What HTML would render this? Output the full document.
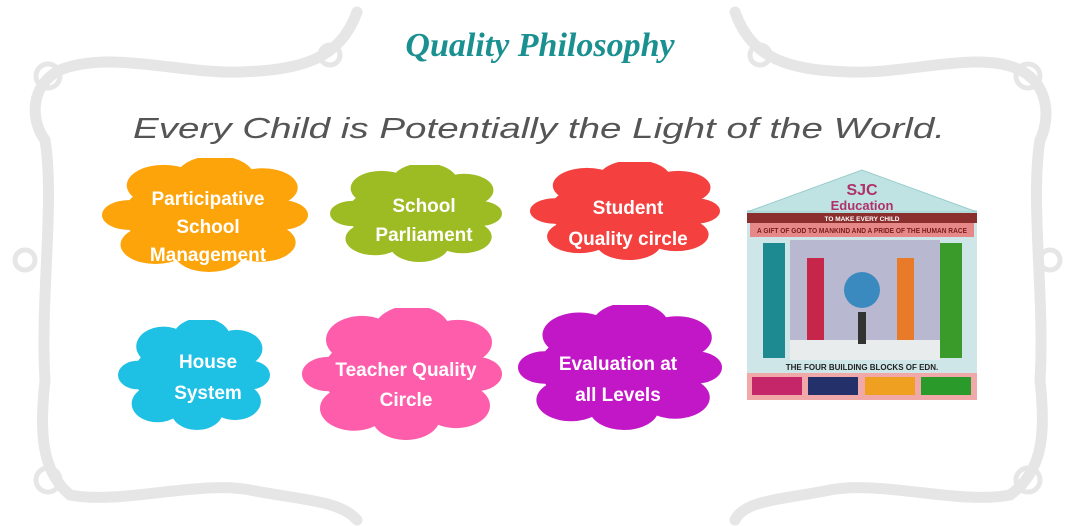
<!DOCTYPE html>
<html><head><meta charset="utf-8"><style>
html,body{margin:0;padding:0;background:#fff;}
svg{display:block}
.ct{font-family:"Liberation Sans",sans-serif;font-weight:bold;fill:#fff;font-size:19px;text-anchor:middle}
.b{font-family:"Liberation Sans",sans-serif;font-weight:bold;text-anchor:middle}
</style></head><body>
<svg width="1075" height="526" viewBox="0 0 1075 526" xmlns="http://www.w3.org/2000/svg">
<defs>
<symbol id="cl" viewBox="0 0 100 100" preserveAspectRatio="none">
<ellipse cx="50" cy="50" rx="40" ry="33"/>
<circle cx="30" cy="24" r="18"/><circle cx="55" cy="17" r="19"/><circle cx="78" cy="26" r="17"/>
<circle cx="87" cy="50" r="13"/><circle cx="77" cy="74" r="17"/><circle cx="52" cy="83" r="17"/>
<circle cx="26" cy="76" r="17"/><circle cx="13" cy="50" r="13"/>
</symbol>
</defs>
<g fill="none" stroke="#e6e6e6" stroke-linecap="round">
<path d="M357 12 C340 60 300 70 240 72 C180 74 110 50 60 70 C30 85 30 120 45 140 C55 200 40 300 45 380 C40 430 40 470 70 495 C120 505 200 480 250 490 C300 500 340 500 357 520" stroke-width="11"/>
<path d="M735 12 C752 60 790 70 850 72 C910 74 980 50 1020 70 C1050 85 1050 120 1040 140 C1030 200 1045 300 1040 380 C1045 430 1045 470 1010 495 C960 505 880 480 830 490 C780 500 745 500 735 520" stroke-width="11"/>
<circle cx="48" cy="76" r="12" stroke-width="5"/><circle cx="1028" cy="76" r="12" stroke-width="5"/>
<circle cx="48" cy="480" r="12" stroke-width="5"/><circle cx="1028" cy="480" r="12" stroke-width="5"/>
<circle cx="330" cy="55" r="10" stroke-width="5"/><circle cx="760" cy="55" r="10" stroke-width="5"/>
<circle cx="25" cy="260" r="10" stroke-width="5"/><circle cx="1050" cy="260" r="10" stroke-width="5"/>
</g>
<text x="540" y="56" text-anchor="middle" font-family="Liberation Serif,serif" font-style="italic" font-weight="bold" font-size="34" fill="#1a9090">Quality Philosophy</text>
<text x="539" y="138" text-anchor="middle" font-family="Liberation Sans,sans-serif" font-style="italic" font-size="29" fill="#555" textLength="812" lengthAdjust="spacingAndGlyphs">Every Child is Potentially the Light of the World.</text>
<use href="#cl" x="102" y="158" width="206" height="114" fill="#fca40a"/>
<use href="#cl" x="330" y="165" width="172" height="97" fill="#9dbb22"/>
<use href="#cl" x="530" y="162" width="190" height="98" fill="#f4403f"/>
<use href="#cl" x="118" y="320" width="152" height="110" fill="#1ec0e4"/>
<use href="#cl" x="302" y="308" width="200" height="132" fill="#fe5dab"/>
<use href="#cl" x="518" y="305" width="204" height="125" fill="#c217c6"/>
<text class="ct" x="208" y="205">Participative</text><text class="ct" x="208" y="233">School</text><text class="ct" x="208" y="261">Management</text>
<text class="ct" x="424" y="212">School</text><text class="ct" x="424" y="241">Parliament</text>
<text class="ct" x="628" y="214">Student</text><text class="ct" x="628" y="245">Quality circle</text>
<text class="ct" x="208" y="368">House</text><text class="ct" x="208" y="399">System</text>
<text class="ct" x="406" y="376">Teacher Quality</text><text class="ct" x="406" y="406">Circle</text>
<text class="ct" x="618" y="370">Evaluation at</text><text class="ct" x="618" y="401">all Levels</text>
<g>
<rect x="747" y="210" width="230" height="190" fill="#cfe6e8"/>
<polygon points="747,212 862,170 977,212" fill="#bfe3e3" stroke="#9cc" />
<text class="b" x="862" y="195" font-size="16" fill="#b0306a" font-family="Liberation Serif,serif" font-weight="normal">SJC</text>
<text class="b" x="862" y="210" font-size="13" fill="#b0306a" font-family="Liberation Serif,serif">Education</text>
<rect x="747" y="213" width="230" height="10" fill="#8b2e2e"/>
<text class="b" x="862" y="221" font-size="6.5" fill="#fff">TO MAKE EVERY CHILD</text>
<rect x="750" y="223" width="224" height="14" fill="#e78888"/>
<text class="b" x="862" y="233" font-size="7" fill="#7a1a1a" textLength="210" lengthAdjust="spacingAndGlyphs">A GIFT OF GOD TO MANKIND AND A PRIDE OF THE HUMAN RACE</text>
<rect x="790" y="240" width="150" height="120" fill="#b8b8d0"/>
<rect x="790" y="340" width="150" height="20" fill="#e8ecec"/>
<rect x="763" y="243" width="22" height="115" fill="#1c8a90"/>
<rect x="940" y="243" width="22" height="115" fill="#3a9a2a"/>
<rect x="807" y="258" width="17" height="82" fill="#c5264a"/>
<rect x="897" y="258" width="17" height="82" fill="#e87a2a"/>
<circle cx="862" cy="290" r="18" fill="#3a8ac0"/>
<rect x="858" y="312" width="8" height="32" fill="#333"/>
<text class="b" x="862" y="370" font-size="8" fill="#222">THE FOUR BUILDING BLOCKS OF EDN.</text>
<rect x="747" y="373" width="230" height="27" fill="#f0a8a8"/>
<rect x="752" y="377" width="50" height="18" fill="#c5266a"/>
<rect x="808" y="377" width="50" height="18" fill="#23306a"/>
<rect x="865" y="377" width="50" height="18" fill="#f0a020"/>
<rect x="921" y="377" width="50" height="18" fill="#2a9a2a"/>
</g>
</svg>
</body></html>
